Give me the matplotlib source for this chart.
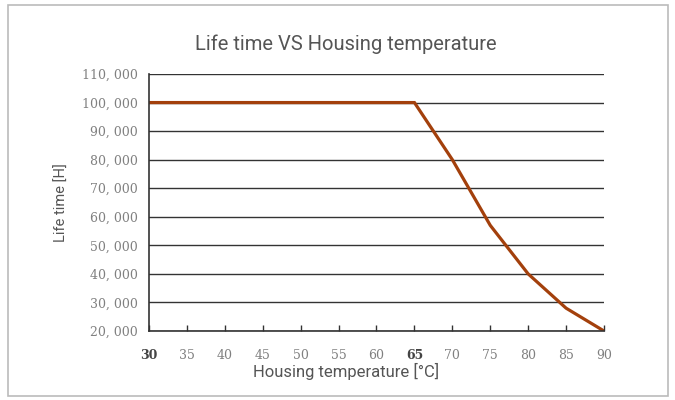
import numpy as np
import matplotlib.pyplot as plt
from matplotlib.patches import Rectangle
from matplotlib.ticker import FuncFormatter

temps = [30, 35, 40, 45, 50, 55, 60, 65, 70, 75, 80, 85, 90]
life = [100000, 100000, 100000, 100000, 100000, 100000, 100000, 100000,
        80000, 57000, 40000, 28000, 20000]
y_ticks = [20000, 30000, 40000, 50000, 60000, 70000, 80000, 90000, 100000, 110000]

fig = plt.figure(figsize=(6.75, 4), dpi=100)
fig.patches.append(Rectangle((8 / 675, 4 / 400), 660 / 675, 391 / 400,
                             transform=fig.transFigure, fill=False,
                             edgecolor='#bbbbbb', linewidth=1.2))

ax = fig.add_axes([149 / 675, 69 / 400, 455 / 675, 257 / 400])
ax.plot(temps, life, color='#a3400c', linewidth=2.3, solid_joinstyle='miter')

ax.set_xlim(30, 90)
ax.set_ylim(20000, 110000)
ax.set_xticks(temps)
ax.set_yticks(y_ticks)
ax.yaxis.set_major_formatter(FuncFormatter(lambda v, p: f'{int(v):,}'.replace(',', ', ')))

for s in ['top', 'right']:
    ax.spines[s].set_visible(False)
for s in ['left', 'bottom']:
    ax.spines[s].set_color('#333333')
    ax.spines[s].set_linewidth(1.2)

ax.grid(axis='y', color='#333333', linewidth=1.0)
ax.set_axisbelow(True)
ax.tick_params(axis='y', length=0, pad=8, labelsize=9, labelcolor='#808080')
ax.tick_params(axis='x', direction='in', length=4, width=1, color='#333333',
               pad=13, labelsize=9, labelcolor='#808080')
for lab in ax.get_xticklabels() + ax.get_yticklabels():
    lab.set_family('DejaVu Serif')
for lab in ax.get_xticklabels():
    if lab.get_text() in ('30', '65'):
        lab.set_color('#444444')
        lab.set_fontweight('semibold')

ax.set_title('Life time VS Housing temperature', fontsize=14.5, color='#555555',
             family=['Liberation Sans Narrow', 'Roboto', 'DejaVu Sans'], pad=17,
             x=(346 - 149) / 455)
ax.set_xlabel('Housing temperature [°C]', fontsize=12, color='#555555',
              family=['Roboto', 'DejaVu Sans'])
ax.xaxis.set_label_coords((346 - 149) / 455, -32 / 257)
ax.set_ylabel('Life time [H]', fontsize=10.5, color='#555555',
              family=['Roboto', 'DejaVu Sans'])
ax.yaxis.set_label_coords(-80 / 455, 0.5)

fig.savefig('out.png', dpi=100)
